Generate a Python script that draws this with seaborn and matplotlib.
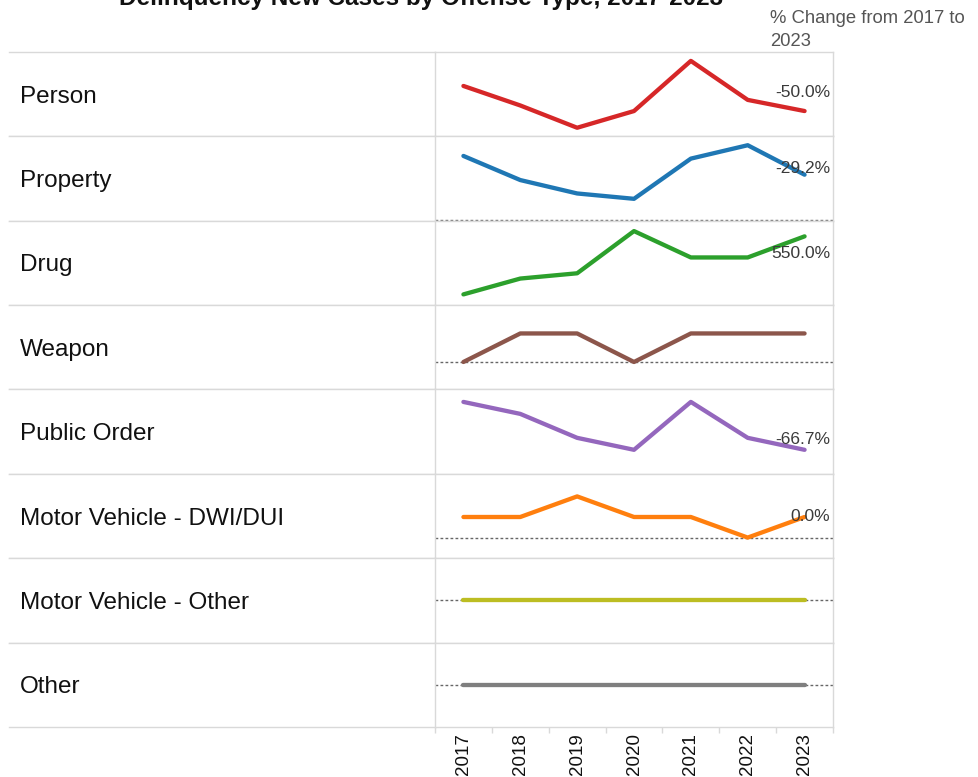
import matplotlib
matplotlib.use("Agg")
import matplotlib.pyplot as plt
import seaborn as sns
import pandas as pd

# ---------------- data ----------------
years = [2017, 2018, 2019, 2020, 2021, 2022, 2023]
offenses = ["Person", "Property", "Drug", "Weapon", "Public Order",
            "Motor Vehicle - DWI/DUI", "Motor Vehicle - Other", "Other"]
person = [18, 11, 3, 9, 27, 13, 9]
property_ = [24, 15, 10, 8, 23, 28, 17]
drug = [2, 5, 6, 14, 9, 9, 13]
weapon = [0, 1, 1, 0, 1, 1, 1]
public_order = [6, 5, 3, 2, 6, 3, 2]
mv_dwi = [1, 1, 2, 1, 1, 0, 1]
mv_other = [0, 0, 0, 0, 0, 0, 0]
other = [0, 0, 0, 0, 0, 0, 0]
series = [person, property_, drug, weapon, public_order, mv_dwi, mv_other, other]

title = "Delinquency New Cases by Offense Type, 2017-2023"
header = "% Change from 2017 to\n2023"

# ---------------- styling ----------------
colors = ["#d62728", "#1f77b4", "#2ca02c", "#8c564b", "#9467bd",
          "#ff7f0e", "#bcbd22", "#7f7f7f"]
ylims = [(0, 30.3), (-0.1, 31.4), (0, 16.0), (-0.96, 2.0), (0, 7.05),
         (-1.0, 3.1), (-1.0, 1.0), (-1.0, 1.0)]
label_dy = [19, 6, -17, 20, 10, 0, 0, 0]   # pixel offsets for % labels

sns.set_theme(style="white")
plt.rcParams["font.family"] = ["Liberation Sans", "DejaVu Sans"]

grid_c = "#d9d9d9"
W, H = 979, 777
fig = plt.figure(figsize=(W / 100, H / 100), dpi=100)
gs = fig.add_gridspec(len(offenses), 2, width_ratios=[426, 398],
                      left=9 / W, right=833 / W,
                      top=1 - 51.7 / H, bottom=1 - 727 / H,
                      hspace=0, wspace=0)

df = pd.DataFrame({"Offense": [o for o in offenses for _ in years],
                   "Year": years * len(offenses),
                   "Cases": [v for s in series for v in s]})

first_ax = None
for i, off in enumerate(offenses):
    # label column
    lax = fig.add_subplot(gs[i, 0])
    lax.set_xticks([]); lax.set_yticks([])
    for s in ["left", "right"]:
        lax.spines[s].set_visible(False)
    for s in ["top", "bottom"]:
        lax.spines[s].set_color(grid_c); lax.spines[s].set_linewidth(1)
    lax.text((20 - 9) / 426, 0.397, off, transform=lax.transAxes,
             ha="left", va="baseline", fontsize=17.5, color="#111111")
    lax.set_facecolor("white")

    # plot column
    ax = fig.add_subplot(gs[i, 1], sharex=first_ax)
    if first_ax is None:
        first_ax = ax
    sub = df[df["Offense"] == off]
    lo, hi = ylims[i]
    if lo < 0 <= hi:
        ax.axhline(0, color="#666666", lw=1, ls=(0, (2, 1.6)), zorder=1)
    sns.lineplot(data=sub, x="Year", y="Cases", ax=ax, color=colors[i],
                 linewidth=3.1, solid_capstyle="round",
                 solid_joinstyle="round", zorder=3)
    ax.set_ylim(lo, hi)
    ax.set_xlim(years[0] - 0.5, years[-1] + 0.5)
    ax.set_ylabel(""); ax.set_xlabel("")
    ax.set_yticks([])
    for s in ax.spines.values():
        s.set_color(grid_c); s.set_linewidth(1)

    vals = series[i]
    if vals[0] != 0:
        pct = (vals[-1] - vals[0]) / vals[0] * 100
        ax.annotate(f"{pct:.1f}%", xy=(1, vals[-1]),
                    xycoords=ax.get_yaxis_transform(),
                    xytext=(-3, label_dy[i]), textcoords="offset pixels",
                    ha="right", va="center", fontsize=12.5, color="#3a3a3a")

    if i < len(offenses) - 1:
        ax.tick_params(axis="x", which="both", bottom=False, labelbottom=False)
    else:
        ax.set_xticks(years)
        ax.set_xticklabels([str(y) for y in years], rotation=90,
                           fontsize=13.5, color="#111111")
        ax.set_xticks([y - 0.5 for y in years] + [years[-1] + 0.5], minor=True)
        ax.tick_params(axis="x", which="major", length=0, pad=4.3)
        ax.tick_params(axis="x", which="minor", length=4.5, width=1,
                       color=grid_c, bottom=True)

fig.text(421 / W, 1 - 5 / H, title, ha="center", va="baseline",
         fontsize=17.5, fontweight="bold", color="#111111")
fig.text(770 / W, 1 - 22.7 / H, "% Change from 2017 to", ha="left",
         va="baseline", fontsize=13.3, color="#555555")
fig.text(770 / W, 1 - 45.7 / H, "2023", ha="left",
         va="baseline", fontsize=13.3, color="#555555")

fig.savefig("out.png", dpi=100, facecolor="white")
